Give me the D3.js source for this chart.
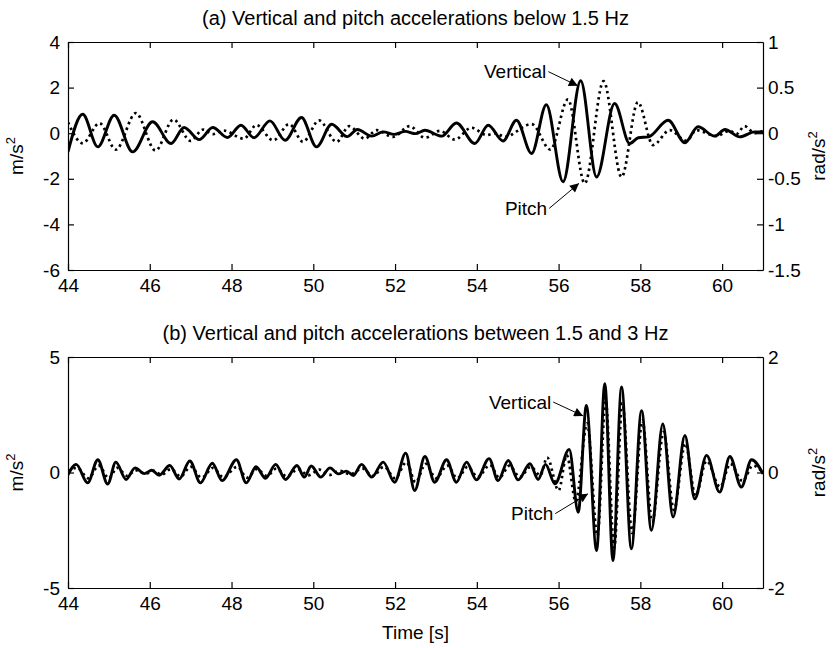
<!DOCTYPE html>
<html>
<head>
<meta charset="utf-8">
<script src="https://cdn.jsdelivr.net/npm/d3@7"></script>
<style>
  body { margin: 0; background: #fff; }
  text { font-family: "Liberation Sans", Arial, Helvetica, sans-serif; fill: #000; }
</style>
</head>
<body>
<svg id="chart" width="835" height="648"></svg>
<script>
// time axis
var timeDomain = [44, 61];
var timeTicks = [44, 46, 48, 50, 52, 54, 56, 58, 60];

// (a) below 1.5 Hz: peaks/troughs, [time s, value]
var aVertical = [
  [44.0, -0.82], [44.36, 0.83], [44.73, -0.6], [45.13, 0.79], [45.58, -0.82],
  [46.07, 0.5], [46.52, -0.45], [46.84, 0.25], [47.21, -0.28], [47.54, 0.25],
  [47.9, -0.19], [48.23, 0.35], [48.55, -0.2], [48.94, 0.54], [49.31, -0.31],
  [49.71, 0.69], [50.08, -0.6], [50.45, 0.39], [50.83, -0.15], [51.08, 0.16],
  [51.43, -0.13], [51.71, 0.06], [51.98, -0.05], [52.25, 0.08], [52.5, -0.02],
  [52.73, 0.13], [53.14, -0.13], [53.5, 0.45], [53.95, -0.45], [54.28, 0.35],
  [54.64, -0.34], [54.97, 0.57], [55.34, -0.89], [55.7, 1.25], [56.11, -2.13],
  [56.54, 2.3], [56.93, -1.92], [57.37, 1.3], [57.74, -0.45], [57.95, -0.2],
  [58.2, -0.16], [58.68, 0.57], [59.09, -0.42], [59.41, 0.28], [59.82, -0.13],
  [60.07, 0.16], [60.43, -0.16], [60.8, 0.06], [61.0, 0.05]
];
var aPitch = [
  [44.0, 0.12], [44.36, -0.11], [44.77, 0.11], [45.17, -0.18], [45.66, 0.22],
  [46.14, -0.19], [46.58, 0.15], [47.0, -0.085], [47.3, 0.04], [47.55, -0.01],
  [47.8, 0.03], [48.3, -0.06], [48.61, 0.09], [49.02, -0.08], [49.41, 0.1],
  [49.75, -0.095], [50.14, 0.14], [50.57, -0.095], [50.88, 0.077], [51.26, -0.06],
  [51.55, 0.033], [51.95, -0.04], [52.36, 0.077], [52.73, -0.05], [53.1, 0.026],
  [53.46, -0.07], [53.87, 0.06], [54.24, -0.02], [54.45, 0.0], [54.68, -0.04],
  [55.34, 0.1], [55.8, -0.18], [56.23, 0.37], [56.64, -0.55], [57.1, 0.57],
  [57.54, -0.48], [57.94, 0.34], [58.31, -0.13], [58.72, 0.033], [59.13, -0.084],
  [59.37, 0.033], [59.86, -0.03], [60.19, 0.026], [60.35, -0.01], [60.55, 0.077],
  [60.8, 0.0], [61.0, 0.026]
];

// (b) 1.5 - 3 Hz
var bVertical = [
  [44.0, -0.1], [44.2, 0.35], [44.48, -0.45], [44.73, 0.55], [44.97, -0.5],
  [45.17, 0.45], [45.42, -0.3], [45.64, 0.2], [45.87, -0.05], [46.05, 0.1],
  [46.23, -0.12], [46.49, 0.3], [46.72, -0.28], [46.98, 0.5], [47.24, -0.45],
  [47.53, 0.4], [47.77, -0.35], [48.12, 0.55], [48.36, -0.45], [48.6, 0.25],
  [48.83, -0.25], [49.08, 0.35], [49.32, -0.3], [49.6, 0.3], [49.78, -0.2],
  [49.95, 0.28], [50.18, -0.2], [50.41, 0.2], [50.61, -0.06], [50.81, 0.06],
  [50.98, -0.13], [51.18, 0.35], [51.43, -0.2], [51.71, 0.45], [51.99, -0.42],
  [52.26, 0.84], [52.48, -0.78], [52.73, 0.69], [52.97, -0.42], [53.26, 0.55],
  [53.5, -0.42], [53.75, 0.45], [53.99, -0.32], [54.3, 0.6], [54.52, -0.35],
  [54.77, 0.52], [55.01, -0.32], [55.3, 0.38], [55.5, -0.3], [55.68, 0.35],
  [55.91, -0.49], [56.26, 1.0], [56.48, -1.72], [56.68, 2.9], [56.93, -3.38],
  [57.13, 3.84], [57.33, -3.81], [57.54, 3.7], [57.78, -3.3], [58.03, 2.68],
  [58.27, -2.5], [58.55, 2.1], [58.8, -1.93], [59.09, 1.6],
  [59.33, -1.14], [59.62, 0.74], [59.94, -0.85], [60.19, 0.69], [60.47, -0.63],
  [60.72, 0.55], [61.0, -0.06]
];
var bPitch = [
  [44.0, 0.02], [44.22, 0.08], [44.5, -0.1], [44.75, 0.12], [45.0, -0.1],
  [45.2, 0.08], [45.45, -0.06], [45.65, 0.04], [45.9, -0.02], [46.1, 0.03],
  [46.28, -0.04], [46.52, 0.06], [46.75, -0.07], [47.0, 0.1], [47.27, -0.09],
  [47.55, 0.08], [47.8, -0.08], [48.14, 0.1], [48.38, -0.09], [48.62, 0.06],
  [48.86, -0.06], [49.1, 0.07], [49.35, -0.07], [49.63, 0.06], [49.88, -0.05],
  [50.15, 0.05], [50.4, -0.04], [50.65, 0.03], [50.9, -0.03], [51.2, 0.07],
  [51.45, -0.06], [51.73, 0.1], [52.0, -0.1], [52.28, 0.18], [52.5, -0.17],
  [52.75, 0.15], [53.0, -0.1], [53.28, 0.12], [53.52, -0.1], [53.78, 0.1],
  [54.02, -0.08], [54.32, 0.13], [54.55, -0.09], [54.8, 0.12], [55.05, -0.08],
  [55.32, 0.1], [55.55, -0.05], [55.72, 0.26], [56.0, -0.31], [56.2, 0.3],
  [56.42, -0.5], [56.7, 0.85], [56.95, -1.1], [57.15, 1.25], [57.36, -1.3],
  [57.56, 1.2], [57.8, -1.05], [58.05, 0.9], [58.29, -0.85], [58.57, 0.7],
  [58.82, -0.65], [59.1, 0.5], [59.35, -0.4], [59.62, 0.2], [59.95, -0.25],
  [60.2, 0.15], [60.5, -0.15], [60.75, 0.12], [61.0, 0.0]
];

// y axes
var aLeftTicks = [-6, -4, -2, 0, 2, 4];
var aRightTicks = [-1.5, -1, -0.5, 0, 0.5, 1];
var bLeftTicks = [-5, 0, 5];
var bRightTicks = [-2, 0, 2];

// annotation arrows, in data units of the left axis: [label, text x, text y, tip x, tip y]
var aNotes = [
  ['Vertical', 55.7, 2.7, 56.47, 2.08],
  ['Pitch', 55.72, -3.3, 56.5, -2.2]
];
var bNotes = [
  ['Vertical', 55.82, 3.05, 56.6, 2.45],
  ['Pitch', 55.87, -1.78, 56.72, -0.92]
];

var svg = d3.select('#chart');
var x = d3.scaleLinear().domain(timeDomain).range([68, 763]);

svg
  .append('defs')
  .append('marker')
  .attr('id', 'head')
  .attr('viewBox', '0 0 10 10')
  .attr('refX', 10)
  .attr('refY', 5)
  .attr('markerUnits', 'userSpaceOnUse')
  .attr('markerWidth', 12)
  .attr('markerHeight', 9)
  .attr('orient', 'auto')
  .append('path')
  .attr('d', 'M0,0L10,5L0,10Z')
  .attr('fill', '#000');

function drawPanel(p) {
  var yL = d3.scaleLinear().domain(p.left).range([p.bottom, p.top]);
  var yR = d3.scaleLinear().domain(p.right).range([p.bottom, p.top]);
  var g = svg.append('g');

  g.append('clipPath')
    .attr('id', p.id)
    .append('rect')
    .attr('x', x.range()[0])
    .attr('y', p.top)
    .attr('width', x.range()[1] - x.range()[0])
    .attr('height', p.bottom - p.top);

  // title
  g.append('text')
    .attr('x', (x.range()[0] + x.range()[1]) / 2)
    .attr('y', p.top - 17)
    .attr('text-anchor', 'middle')
    .attr('font-size', 20)
    .text(p.title);

  // axes, ticks inside
  var fmt = function (d) { return String(d); };
  g.append('g')
    .attr('transform', 'translate(0,' + p.bottom + ')')
    .call(d3.axisBottom(x).tickValues(timeTicks).tickSize(-6).tickSizeOuter(0).tickPadding(9).tickFormat(fmt));
  g.append('g')
    .attr('transform', 'translate(0,' + p.top + ')')
    .call(d3.axisTop(x).tickValues(timeTicks).tickSize(-6).tickSizeOuter(0).tickFormat(''));
  g.append('g')
    .attr('transform', 'translate(' + x.range()[0] + ',0)')
    .call(d3.axisLeft(yL).tickValues(p.leftTicks).tickSize(-6).tickSizeOuter(0).tickPadding(8).tickFormat(fmt));
  g.append('g')
    .attr('transform', 'translate(' + x.range()[1] + ',0)')
    .call(d3.axisRight(yR).tickValues(p.rightTicks).tickSize(-6).tickSizeOuter(0).tickPadding(5).tickFormat(fmt));

  g.selectAll('.tick text').attr('font-size', 19).attr('font-family', null);
  g.selectAll('.domain, .tick line').attr('stroke', '#000').attr('stroke-width', 1.2);

  // unit labels
  var mid = (p.top + p.bottom) / 2;
  var ll = g.append('text')
    .attr('transform', 'translate(23,' + mid + ') rotate(-90)')
    .attr('text-anchor', 'middle')
    .attr('font-size', 19);
  ll.append('tspan').text('m/s');
  ll.append('tspan').attr('font-size', 13).attr('dy', -8).text('2');
  var rl = g.append('text')
    .attr('transform', 'translate(825,' + mid + ') rotate(-90)')
    .attr('text-anchor', 'middle')
    .attr('font-size', 19);
  rl.append('tspan').text('rad/s');
  rl.append('tspan').attr('font-size', 13).attr('dy', -8).text('2');

  var lines = g.append('g').attr('clip-path', 'url(#' + p.id + ')');
  lines.append('path')
    .datum(p.pitch)
    .attr('fill', 'none')
    .attr('stroke', '#000')
    .attr('stroke-width', 2.7)
    .attr('stroke-dasharray', '2.5,3.5')
    .attr('d', d3.line().curve(d3.curveMonotoneX)
      .x(function (d) { return x(d[0]); })
      .y(function (d) { return yR(d[1]); }));
  lines.append('path')
    .datum(p.vertical)
    .attr('fill', 'none')
    .attr('stroke', '#000')
    .attr('stroke-width', 2.9)
    .attr('stroke-linejoin', 'round')
    .attr('d', d3.line().curve(d3.curveMonotoneX)
      .x(function (d) { return x(d[0]); })
      .y(function (d) { return yL(d[1]); }));

  // annotations
  p.notes.forEach(function (n) {
    g.append('text')
      .attr('x', x(n[1]))
      .attr('y', yL(n[2]))
      .attr('dy', '0.35em')
      .attr('text-anchor', 'end')
      .attr('font-size', 19)
      .text(n[0]);
    g.append('line')
      .attr('x1', x(n[1]) + 2)
      .attr('y1', yL(n[2]))
      .attr('x2', x(n[3]))
      .attr('y2', yL(n[4]))
      .attr('stroke', '#000')
      .attr('stroke-width', 1)
      .attr('marker-end', 'url(#head)');
  });
}

drawPanel({
  id: 'clipA', top: 42, bottom: 270,
  title: '(a) Vertical and pitch accelerations below 1.5 Hz',
  left: [-6, 4], right: [-1.5, 1],
  leftTicks: aLeftTicks, rightTicks: aRightTicks,
  vertical: aVertical, pitch: aPitch, notes: aNotes
});
drawPanel({
  id: 'clipB', top: 357, bottom: 588,
  title: '(b) Vertical and pitch accelerations between 1.5 and 3 Hz',
  left: [-5, 5], right: [-2, 2],
  leftTicks: bLeftTicks, rightTicks: bRightTicks,
  vertical: bVertical, pitch: bPitch, notes: bNotes
});

svg.append('text')
  .attr('x', (x.range()[0] + x.range()[1]) / 2)
  .attr('y', 639)
  .attr('text-anchor', 'middle')
  .attr('font-size', 19)
  .text('Time [s]');
</script>
</body>
</html>
